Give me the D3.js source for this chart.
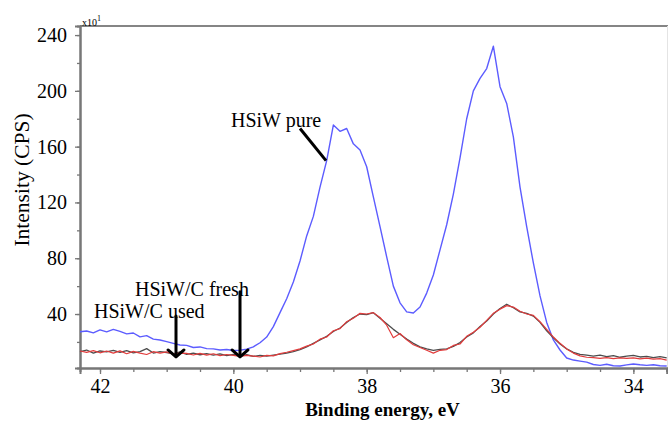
<!DOCTYPE html>
<html>
<head>
<meta charset="utf-8">
<script src="https://cdn.jsdelivr.net/npm/d3@7"></script>
<style>
  body { margin: 0; background: #fff; }
  svg { display: block; }
  text { font-family: "Liberation Serif", "Times New Roman", serif; fill: #000; }
</style>
</head>
<body>
<svg id="chart" width="668" height="421"></svg>
<script>
// Binding energy grid, eV (descending, XPS convention)
const energy = [
  42.3, 42.2, 42.1, 42.0, 41.9, 41.8, 41.7, 41.6, 41.5, 41.4,
  41.3, 41.2, 41.1, 41.0, 40.9, 40.8, 40.7, 40.6, 40.5, 40.4,
  40.3, 40.2, 40.1, 40.0, 39.9, 39.8, 39.7, 39.6, 39.5, 39.4,
  39.3, 39.2, 39.1, 39.0, 38.9, 38.8, 38.7, 38.6, 38.5, 38.4,
  38.3, 38.2, 38.1, 38.0, 37.9, 37.8, 37.7, 37.6, 37.5, 37.4,
  37.3, 37.2, 37.1, 37.0, 36.9, 36.8, 36.7, 36.6, 36.5, 36.4,
  36.3, 36.2, 36.1, 36.0, 35.9, 35.8, 35.7, 35.6, 35.5, 35.4,
  35.3, 35.2, 35.1, 35.0, 34.9, 34.8, 34.7, 34.6, 34.5, 34.4,
  34.3, 34.2, 34.1, 34.0, 33.9, 33.8, 33.7, 33.6, 33.5
];

// Intensity, CPS x10
const pureHSiW = [
  27.3, 27.8, 26.5, 28.6, 27.2, 29.0, 27.5, 25.8, 26.4, 23.6,
  24.5, 22.0, 21.4, 20.2, 19.0, 17.8, 17.5, 16.0, 16.4, 15.2,
  15.0, 14.2, 14.6, 13.8, 14.0, 14.8, 16.5, 19.4, 23.5, 31.0,
  41.0, 51.0, 63.0, 78.0, 96.0, 110.0, 131.0, 150.0, 175.5, 171.0,
  173.0, 162.0, 157.6, 145.6, 124.0, 102.6, 81.0, 60.0, 48.0, 41.5,
  40.7, 45.0, 55.0, 68.0, 86.0, 104.0, 126.0, 152.0, 180.0, 200.0,
  209.0, 216.0, 232.0, 203.0, 191.0, 167.0, 131.0, 102.6, 76.6, 53.0,
  34.0, 21.4, 14.2, 8.5, 7.0, 6.2, 5.5, 3.8, 3.2, 4.0,
  2.9, 2.7, 3.5, 4.2, 3.6, 3.2, 3.6, 2.9, 2.7
];

const freshHSiWC = [
  13.5, 12.5, 13.8, 12.2, 13.5, 12.0, 13.6, 11.5, 13.2, 12.0,
  11.0, 13.0, 12.0, 12.8, 11.2, 12.0, 11.8, 10.6, 11.8, 10.5,
  11.5, 10.2, 11.0, 10.4, 9.6, 10.4, 9.8, 9.2, 10.4, 10.0,
  11.6, 12.6, 13.8, 15.0, 17.0, 18.5, 22.0, 23.5, 28.0, 29.5,
  34.5, 37.0, 40.5, 40.0, 41.0, 37.5, 32.0, 23.0, 26.0, 21.5,
  18.0, 16.0, 14.0, 12.0, 14.0, 14.5, 17.5, 18.5, 24.0, 27.0,
  30.5, 35.5, 40.5, 43.5, 46.0, 45.0, 42.0, 40.0, 39.0, 34.5,
  29.0, 23.5, 19.0, 15.0, 12.0, 10.0, 9.0, 8.8, 8.2, 8.8,
  8.0, 8.6, 8.2, 8.5, 7.8, 8.4, 7.6, 8.0, 7.0
];

const usedHSiWC = [
  13.0, 14.2, 12.0, 13.5, 12.8, 14.0, 12.5, 13.8, 12.2, 13.0,
  15.2, 12.0, 13.0, 12.4, 11.5, 12.8, 11.0, 12.0, 10.8, 11.6,
  10.5, 11.4, 10.2, 11.0, 10.0, 10.8, 9.6, 10.4, 9.8, 10.6,
  11.2, 12.0, 13.0, 14.5, 16.5, 19.0, 21.5, 24.0, 27.5, 30.0,
  34.0, 37.5, 40.0, 39.5, 41.0, 37.0, 33.0, 29.0, 25.5, 22.0,
  19.0, 16.5, 15.0, 14.0, 14.6, 15.0, 16.8, 19.5, 23.5, 26.5,
  31.0, 35.0, 40.0, 44.0, 47.0, 44.5, 41.5, 40.5, 38.5, 34.0,
  28.0, 23.0, 18.5, 15.0, 12.5, 11.0, 10.5, 9.8, 10.5, 9.5,
  10.2, 9.0, 9.8, 10.4, 9.2, 9.6, 8.8, 9.5, 8.6
];

const xMajorTicks = [42, 40, 38, 36, 34];
const xMinorTicks = [42, 41.5, 41, 40.5, 40, 39.5, 39, 38.5, 38, 37.5, 37, 36.5, 36, 35.5, 35, 34.5, 34, 33.5];
const yMajorTicks = [40, 80, 120, 160, 200, 240];
const yMinorTicks = [20, 40, 60, 80, 100, 120, 140, 160, 180, 200, 220, 240];

const seriesNames = ["HSiW pure", "HSiW/C fresh", "HSiW/C used"];

const svg = d3.select("#chart");
const plot = { left: 80, right: 666.7, top: 26, bottom: 368 };

const x = d3.scaleLinear().domain([42.3, 33.5]).range([plot.left, plot.right]);
const y = d3.scaleLinear().domain([1.3, 246.5]).range([plot.bottom, plot.top]);

// frame: top border and faint right border
svg.append("line")
  .attr("x1", plot.left).attr("x2", 668)
  .attr("y1", plot.top).attr("y2", plot.top)
  .attr("stroke", "#858585").attr("stroke-width", 2);
svg.append("line")
  .attr("x1", 667.5).attr("x2", 667.5)
  .attr("y1", plot.top).attr("y2", plot.bottom)
  .attr("stroke", "#e4e4e4").attr("stroke-width", 1);

// axes
const axisColor = "#777";
const xMinor = svg.append("g").attr("transform", `translate(0,${plot.bottom})`)
  .call(d3.axisBottom(x).tickValues(xMinorTicks).tickSize(4).tickFormat(""));
const xMajor = svg.append("g").attr("transform", `translate(0,${plot.bottom})`)
  .call(d3.axisBottom(x).tickValues(xMajorTicks).tickSize(6).tickPadding(5).tickFormat(d3.format("d")));
const yMinor = svg.append("g").attr("transform", `translate(${plot.left},0)`)
  .call(d3.axisLeft(y).tickValues(yMinorTicks).tickSize(3).tickFormat(""));
const yMajor = svg.append("g").attr("transform", `translate(${plot.left},0)`)
  .call(d3.axisLeft(y).tickValues(yMajorTicks).tickSize(5).tickPadding(8).tickFormat(d3.format("d")));

[xMinor, xMajor, yMinor, yMajor].forEach(g => {
  g.attr("font-family", '"Liberation Serif", "Times New Roman", serif');
  g.select(".domain").attr("stroke", axisColor).attr("stroke-width", 2);
  g.selectAll(".tick line").attr("stroke", axisColor).attr("stroke-width", 1.3);
  g.selectAll("text")
    .attr("font-family", '"Liberation Serif", "Times New Roman", serif')
    .attr("font-size", 20).attr("fill", "#000");
});

// scale factor marker
const mult = svg.append("text").attr("x", 82).attr("y", 26).attr("font-size", 10);
mult.append("tspan").text("x10");
mult.append("tspan").attr("dy", -5).attr("font-size", 8).text("1");

// axis titles
svg.append("text")
  .attr("transform", `translate(29,180) rotate(-90)`)
  .attr("text-anchor", "middle").attr("font-size", 21.5)
  .text("Intensity (CPS)");
svg.append("text")
  .attr("x", 382.5).attr("y", 416)
  .attr("text-anchor", "middle").attr("font-size", 19).attr("font-weight", "bold")
  .text("Binding energy, eV");

// spectra
const series = [
  { values: pureHSiW, color: "#5c5cff", width: 1.4 },
  { values: usedHSiWC, color: "#4d4d4d", width: 1.3 },
  { values: freshHSiWC, color: "#e23c3c", width: 1.2 }
];
const line = d3.line().x(d => x(d[0])).y(d => y(d[1]));
svg.append("g").selectAll("path")
  .data(series)
  .join("path")
  .attr("d", s => line(energy.map((e, i) => [e, s.values[i]])))
  .attr("fill", "none")
  .attr("stroke", s => s.color)
  .attr("stroke-width", s => s.width)
  .attr("stroke-linejoin", "round");

// annotations (placed in energy / intensity units)
const labels = [
  { text: seriesNames[0], e: 40.035, v: 174 },
  { text: seriesNames[1], e: 41.475, v: 53 },
  { text: seriesNames[2], e: 42.09, v: 37 }
];
svg.append("g").selectAll("text")
  .data(labels)
  .join("text")
  .attr("x", d => x(d.e)).attr("y", d => y(d.v))
  .attr("font-size", 20)
  .text(d => d.text);

// leader line to the pure HSiW spectrum
svg.append("line")
  .attr("x1", x(39.0)).attr("y1", y(173))
  .attr("x2", x(38.61)).attr("y2", y(150))
  .attr("stroke", "#000").attr("stroke-width", 3);

// downward arrows to the composite spectra
const arrows = [
  { e: 40.86, from: 38.5, to: 9.2 },
  { e: 39.9, from: 56, to: 9.2 }
];
const ag = svg.append("g").attr("stroke", "#000").attr("fill", "none")
  .attr("stroke-width", 3).attr("stroke-linecap", "round");
arrows.forEach(a => {
  const ax = x(a.e), y0 = y(a.from), y1 = y(a.to);
  ag.append("line").attr("x1", ax).attr("x2", ax).attr("y1", y0).attr("y2", y1 - 1);
  ag.append("path")
    .attr("stroke-linejoin", "round")
    .attr("d", `M${ax - 8},${y1 - 7} L${ax},${y1} L${ax + 8},${y1 - 7}`);
});
</script>
</body>
</html>
